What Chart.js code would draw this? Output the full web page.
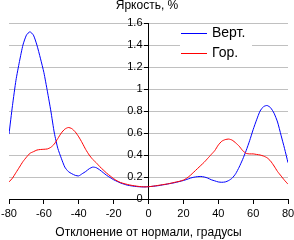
<!DOCTYPE html>
<html>
<head>
<meta charset="utf-8">
<script src="https://cdn.jsdelivr.net/npm/chart.js@4.4.0/dist/chart.umd.min.js"></script>
<style>
  html, body { margin: 0; padding: 0; background: #fff; }
  #wrap { width: 294px; height: 240px; }
</style>
</head>
<body>
<div id="wrap"><canvas id="chart" width="294" height="240"></canvas></div>
<script>
// 角度（度）
const angles = [-80,-78,-76,-74,-72,-70,-68,-66,-64,-62,-60,-58,-56,-54,-52,-50,-48,-46,-44,-42,-40,
  -38,-36,-34,-32,-30,-28,-26,-24,-22,-20,-18,-16,-14,-12,-10,-8,-6,-4,-2,0,
  2,4,6,8,10,12,14,16,18,20,22,24,26,28,30,32,34,36,38,40,
  42,44,46,48,50,52,54,56,58,60,62,64,66,68,70,72,74,76,78,80];

// 縦方向
const vertValues = [0.59,0.85,1.08,1.25,1.40,1.49,1.52,1.49,1.40,1.28,1.15,0.98,0.80,0.60,0.46,0.37,0.29,0.25,0.23,0.215,0.21,
  0.23,0.25,0.275,0.29,0.285,0.265,0.24,0.215,0.195,0.175,0.16,0.145,0.135,0.125,0.12,0.115,0.112,0.11,0.11,0.112,
  0.115,0.118,0.122,0.128,0.133,0.14,0.145,0.152,0.16,0.168,0.178,0.19,0.198,0.203,0.205,0.2,0.19,0.175,0.165,0.155,
  0.152,0.155,0.168,0.19,0.23,0.29,0.36,0.44,0.53,0.63,0.72,0.8,0.84,0.85,0.83,0.78,0.70,0.58,0.46,0.33];

// 横方向
const horValues = [0.155,0.19,0.24,0.29,0.34,0.38,0.415,0.43,0.445,0.45,0.452,0.455,0.47,0.50,0.55,0.60,0.635,0.65,0.64,0.61,0.565,
  0.51,0.45,0.40,0.36,0.33,0.295,0.265,0.235,0.21,0.185,0.165,0.15,0.14,0.132,0.125,0.12,0.115,0.112,0.11,0.112,
  0.115,0.12,0.125,0.13,0.135,0.14,0.148,0.155,0.162,0.172,0.19,0.215,0.245,0.275,0.305,0.335,0.37,0.405,0.44,0.49,
  0.525,0.54,0.545,0.535,0.51,0.48,0.44,0.415,0.41,0.41,0.405,0.40,0.39,0.375,0.345,0.30,0.25,0.21,0.17,0.135];

const seriesNames = ['Верт.', 'Гор.'];
const seriesColors = ['#0000ff', '#ff0000'];
const yTitle = 'Яркость, %';
const xTitle = 'Отклонение от нормали, градусы';

const FONT = 'Liberation Sans, Arial, sans-serif';

// 凡例とY軸タイトルを描画
const extras = {
  id: 'extras',
  afterDraw(chart) {
    const ctx = chart.ctx;
    ctx.save();
    ctx.font = '12px ' + FONT;
    ctx.fillStyle = '#000';
    ctx.textAlign = 'center';
    ctx.textBaseline = 'middle';
    ctx.fillText(yTitle, 147, 6);

    // 凡例
    ctx.fillStyle = '#fff';
    ctx.fillRect(180, 25, 72, 39);
    ctx.font = '14px ' + FONT;
    ctx.textAlign = 'left';
    for (let i = 0; i < seriesNames.length; i++) {
      const y = 33 + i * 20;
      ctx.fillStyle = seriesColors[i];
      ctx.fillRect(181, y, 26, 1);
      ctx.fillStyle = '#000';
      ctx.fillText(seriesNames[i], 212, y + 0.5);
    }
    ctx.restore();
  }
};

new Chart(document.getElementById('chart'), {
  type: 'line',
  data: {
    datasets: [
      {
        label: seriesNames[0],
        data: angles.map((a, i) => ({ x: a, y: vertValues[i] })),
        borderColor: seriesColors[0],
        borderWidth: 1,
        pointRadius: 0,
        tension: 0.2,
        order: 2
      },
      {
        label: seriesNames[1],
        data: angles.map((a, i) => ({ x: a, y: horValues[i] })),
        borderColor: seriesColors[1],
        borderWidth: 1,
        pointRadius: 0,
        tension: 0.2,
        order: 1
      }
    ]
  },
  options: {
    responsive: false,
    animation: false,
    layout: { padding: { top: 23, left: 9, right: 6, bottom: 0 } },
    plugins: {
      legend: { display: false },
      tooltip: { enabled: false }
    },
    scales: {
      x: {
        type: 'linear',
        min: -80,
        max: 80,
        ticks: { stepSize: 20, color: '#000', font: { family: FONT, size: 11 }, padding: 3, maxRotation: 0 },
        grid: { drawOnChartArea: false, drawTicks: true, tickLength: 5, tickColor: '#000' },
        border: { color: '#000', width: 1 },
        title: { display: true, text: xTitle, color: '#000', font: { family: FONT, size: 12 }, padding: 0 },
        afterFit(scale) {
          scale.height = 41;
          scale.paddingLeft = 0;
          scale.paddingRight = 0;
        }
      },
      y: {
        position: 'center',
        min: 0,
        max: 1.6,
        ticks: { stepSize: 0.2, color: '#000', font: { family: FONT, size: 11 }, padding: 2,
          callback: v => String(Math.round(v * 10) / 10) },
        grid: { color: '#c0c0c0', tickColor: '#000', tickLength: 4 },
        border: { color: '#000', width: 1 }
      }
    }
  },
  plugins: [extras]
});
</script>
</body>
</html>
